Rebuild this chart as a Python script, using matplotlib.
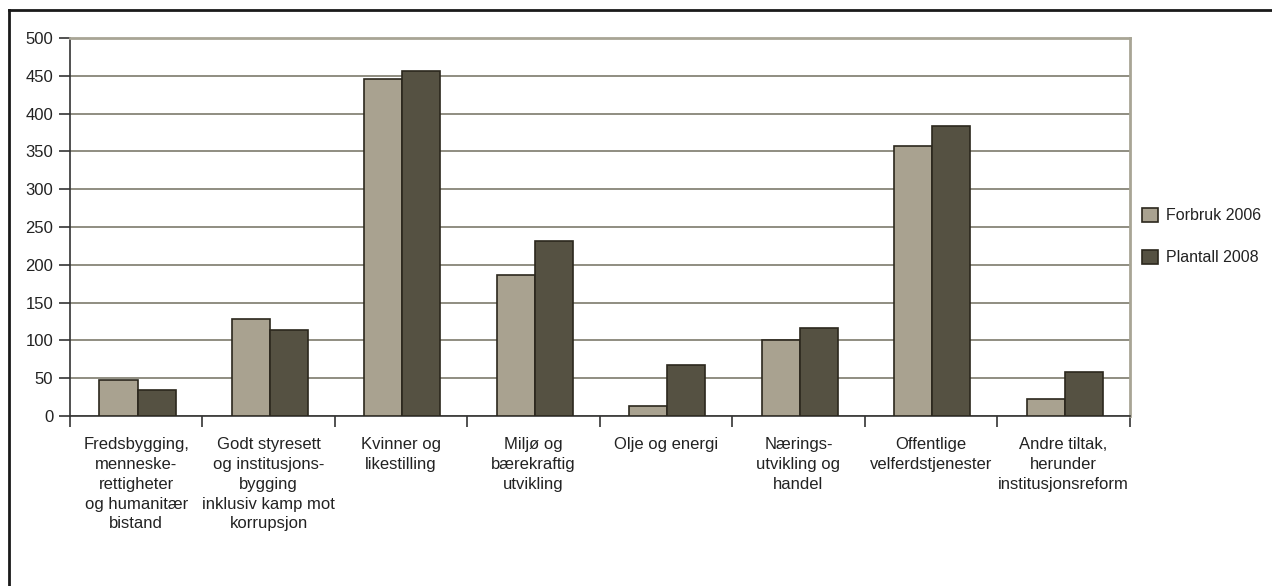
import matplotlib.pyplot as plt
from matplotlib.lines import Line2D
import numpy as np

plt.rcParams['font.family'] = ['Liberation Sans', 'DejaVu Sans']

categories = [
    "Fredsbygging,\nmenneske-\nrettigheter\nog humanitær\nbistand",
    "Godt styresett\nog institusjons-\nbygging\ninklusiv kamp mot\nkorrupsjon",
    "Kvinner og\nlikestilling",
    "Miljø og\nbærekraftig\nutvikling",
    "Olje og energi",
    "Nærings-\nutvikling og\nhandel",
    "Offentlige\nvelferdstjenester",
    "Andre tiltak,\nherunder\ninstitusjonsreform",
]
forbruk_2006 = [48, 128, 446, 186, 13, 100, 357, 22]
plantall_2008 = [35, 114, 456, 231, 67, 116, 384, 58]
yticks = [0, 50, 100, 150, 200, 250, 300, 350, 400, 450, 500]

light = "#a9a290"
dark = "#555142"
edge = "#2b271d"
grid = "#7d7a6c"
frame_grey = "#a8a595"

fig = plt.figure(figsize=(12.72, 5.86), dpi=100)
ax = fig.add_axes([0.055, 0.290, 0.833, 0.645])

x = np.arange(len(categories))
w = 0.287
ax.bar(x - w / 2 + 0.01, forbruk_2006, w, color=light, edgecolor=edge,
       linewidth=1.2, label="Forbruk 2006", zorder=3)
ax.bar(x + w / 2 + 0.01, plantall_2008, w, color=dark, edgecolor=edge,
       linewidth=1.2, label="Plantall 2008", zorder=3)

ax.set_xlim(-0.5, len(categories) - 0.5)
ax.set_ylim(0, 500)
ax.set_yticks(yticks)
ax.yaxis.grid(True, color=grid, linewidth=1.2, zorder=0)
ax.set_axisbelow(True)

ax.set_xticks(np.arange(len(categories) + 1) - 0.5)
ax.set_xticklabels([])
ax.tick_params(axis="x", direction="out", length=8, width=1.2, color="#333333")
ax.tick_params(axis="y", direction="out", length=8, width=1.2, color="#333333",
               labelsize=12, pad=4, labelcolor="#222222")

for i, lab in enumerate(categories):
    ax.text(i, -28, lab, ha="center", va="top", fontsize=12,
            color="#222222", linespacing=1.4)

ax.spines["left"].set_color("#333333")
ax.spines["bottom"].set_color("#333333")
ax.spines["left"].set_linewidth(1.2)
ax.spines["bottom"].set_linewidth(1.2)
ax.spines["top"].set_color(frame_grey)
ax.spines["right"].set_color(frame_grey)
ax.spines["top"].set_linewidth(2)
ax.spines["right"].set_linewidth(2)

leg = ax.legend(loc="center left", bbox_to_anchor=(0.998, 0.475), frameon=False,
                fontsize=11.5, handlelength=1.0, handleheight=1.0,
                labelspacing=1.65, handletextpad=0.5)
for t in leg.get_texts():
    t.set_color("#222222")

# outer frame (top and left only)
fig.add_artist(Line2D([0.007, 1.0], [0.983, 0.983], color="#1a1a1a", linewidth=2,
                      transform=fig.transFigure))
fig.add_artist(Line2D([0.007, 0.007], [0.0, 0.983], color="#1a1a1a", linewidth=2,
                      transform=fig.transFigure))

fig.savefig("out.png", dpi=100)
